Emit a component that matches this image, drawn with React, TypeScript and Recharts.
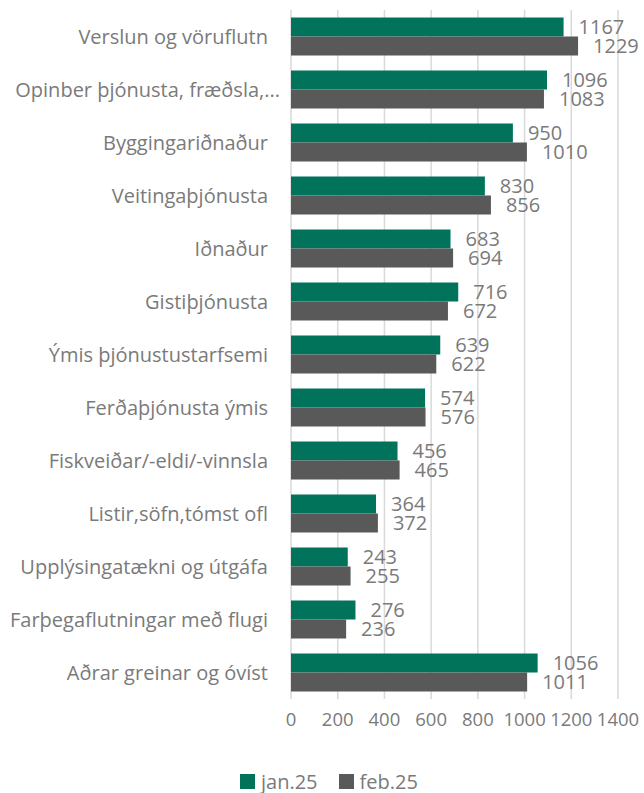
import React from "react";
import { BarChart, Bar, XAxis, YAxis, CartesianGrid, Legend, LabelList } from "recharts";

const categories = [
  "Verslun og vöruflutn",
  "Opinber þjónusta, fræðsla,...",
  "Byggingariðnaður",
  "Veitingaþjónusta",
  "Iðnaður",
  "Gistiþjónusta",
  "Ýmis þjónustustarfsemi",
  "Ferðaþjónusta ýmis",
  "Fiskveiðar/-eldi/-vinnsla",
  "Listir,söfn,tómst ofl",
  "Upplýsingatækni og útgáfa",
  "Farþegaflutningar með flugi",
  "Aðrar greinar og óvíst",
];
const jan25 = [1167, 1096, 950, 830, 683, 716, 639, 574, 456, 364, 243, 276, 1056];
const feb25 = [1229, 1083, 1010, 856, 694, 672, 622, 576, 465, 372, 255, 236, 1011];
const xTicks = [0, 200, 400, 600, 800, 1000, 1200, 1400];

const data = categories.map((c, i) => ({ name: c, jan: jan25[i], feb: feb25[i] }));

const FONT = "'Open Sans', sans-serif";
const TEXT = "#7a7a7a";
const GREEN = "#00735A";
const GRAY = "#595959";

const CategoryTick = (props: any) => {
  const { x, y, payload } = props;
  const truncated = String(payload.value).endsWith("...");
  return (
    <text
      x={x + (truncated ? 12 : 0)}
      y={y}
      dy="0.35em"
      textAnchor="end"
      fill={TEXT}
      fontSize={20}
      fontFamily={FONT}
    >
      {payload.value}
    </text>
  );
};

const renderLegend = () => (
  <div
    style={{
      display: "flex",
      justifyContent: "flex-start",
      alignItems: "center",
      height: 36,
      paddingTop: 12,
      boxSizing: "border-box",
      fontFamily: FONT,
      fontSize: 20,
      color: TEXT,
      paddingLeft: 240,
    }}
  >
    <span style={{ display: "flex", alignItems: "center", marginRight: 21 }}>
      <span style={{ width: 15, height: 15, background: GREEN, display: "inline-block", marginRight: 6 }} />
      jan.25
    </span>
    <span style={{ display: "flex", alignItems: "center" }}>
      <span style={{ width: 15, height: 15, background: GRAY, display: "inline-block", marginRight: 6 }} />
      feb.25
    </span>
  </div>
);

export default function App() {
  return (
    <div style={{ position: "absolute", left: 0, top: 0, background: "#fff" }}>
      <BarChart
        width={644}
        height={793}
        data={data}
        layout="vertical"
        margin={{ top: 10, right: 26, left: 0, bottom: 0 }}
        barCategoryGap="14%"
        barGap={0}
      >
        <CartesianGrid horizontal={false} stroke="#d9d9d9" strokeWidth={1.5} />
        <XAxis
          type="number"
          domain={[0, 1400]}
          ticks={xTicks}
          axisLine={false}
          tickLine={false}
          tickMargin={8}
          height={58}
          tick={{ fill: TEXT, fontSize: 18.5, fontFamily: FONT }}
          interval={0}
        />
        <YAxis
          type="category"
          dataKey="name"
          width={291}
          axisLine={false}
          tickLine={false}
          tickSize={0}
          tickMargin={23}
          tick={<CategoryTick />}
          interval={0}
        />
        <Legend verticalAlign="bottom" height={36} content={renderLegend} />
        <Bar dataKey="jan" name="jan.25" fill={GREEN} isAnimationActive={false}>
          <LabelList dataKey="jan" position="right" offset={15} fill={TEXT} fontSize={20} fontFamily={FONT} />
        </Bar>
        <Bar dataKey="feb" name="feb.25" fill={GRAY} isAnimationActive={false}>
          <LabelList dataKey="feb" position="right" offset={15} fill={TEXT} fontSize={20} fontFamily={FONT} />
        </Bar>
      </BarChart>
    </div>
  );
}
